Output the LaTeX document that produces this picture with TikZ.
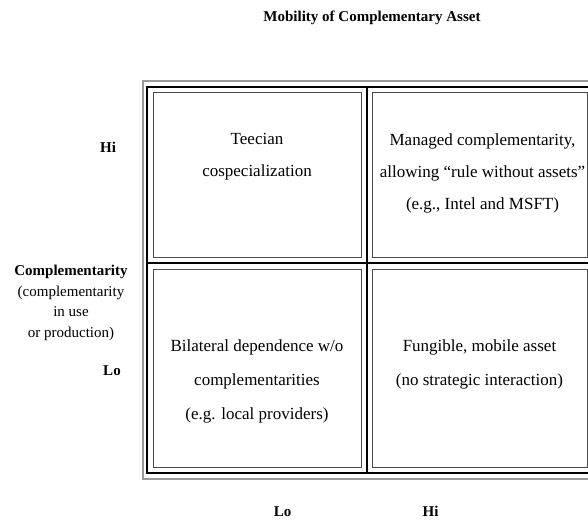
\documentclass[tikz,border=0pt]{standalone}
\usepackage{fontspec}
\setmainfont{Liberation Serif}
\usetikzlibrary{positioning}

\begin{document}
\begin{tikzpicture}[x=1pt,y=-1pt,
  cellbox/.style={draw=black!70, line width=1pt, inner sep=0pt},
  celltext/.style={anchor=north, inner sep=0pt, align=center, font=\fontsize{17}{32}\selectfont},
  axislabel/.style={inner sep=0pt, font=\fontsize{15}{20.5}\selectfont\bfseries}]
\useasboundingbox (0,0) rectangle (588,522);
\clip (0,0) rectangle (588,522);
% double frame and the dividing rules
\draw[black!40, line width=1.5pt] (143,81) rectangle (600,479);
\draw[line width=2pt] (147,86.5) rectangle (600,473);
\draw[line width=2pt] (366.5,86.5) -- (366.5,473);
\draw[line width=2pt] (147,263) -- (600,263);
% the four cells
\node[cellbox, minimum width=208pt, minimum height=165pt] (tl) at (257,174.5) {};
\node[cellbox, minimum width=215pt, minimum height=165pt] (tr) at (479.5,174.5) {};
\node[cellbox, minimum width=208pt, minimum height=198pt] (bl) at (257,368) {};
\node[cellbox, minimum width=215pt, minimum height=198pt] (br) at (479.5,368) {};
\node[celltext] (tl-text) at ([yshift=-42pt]tl.north) {Teecian\\cospecialization};
\node[celltext] (tr-text) at ([xshift=3pt,yshift=-42pt]tr.north)
  {Managed complementarity,\\allowing “rule without assets”\\(e.g., Intel and MSFT)};
\node[celltext, font=\fontsize{17}{34}\selectfont] (bl-text) at ([yshift=-71pt]bl.north)
  {Bilateral dependence w/o\\complementarities\\(e.g. local providers)};
\node[celltext, font=\fontsize{17}{34}\selectfont] (br-text) at ([yshift=-71pt]br.north)
  {Fungible, mobile asset\\(no strategic interaction)};
% axis labels
\node[axislabel] (title) at (372,18) {Mobility of Complementary Asset};
\node[axislabel] (hi-left) at (108,147) {Hi};
\node[axislabel] (lo-left) at (112,371) {Lo};
\node[axislabel, anchor=north, align=center, font=\fontsize{15}{20.5}\selectfont] (comp) at (71,265)
  {{\bfseries Complementarity}\\(complementarity\\in use\\or production)};
\node[axislabel] (lo-bottom) at (282.5,511.5) {Lo};
\node[axislabel] (hi-bottom) at (430.5,511) {Hi};
\end{tikzpicture}
\end{document}
